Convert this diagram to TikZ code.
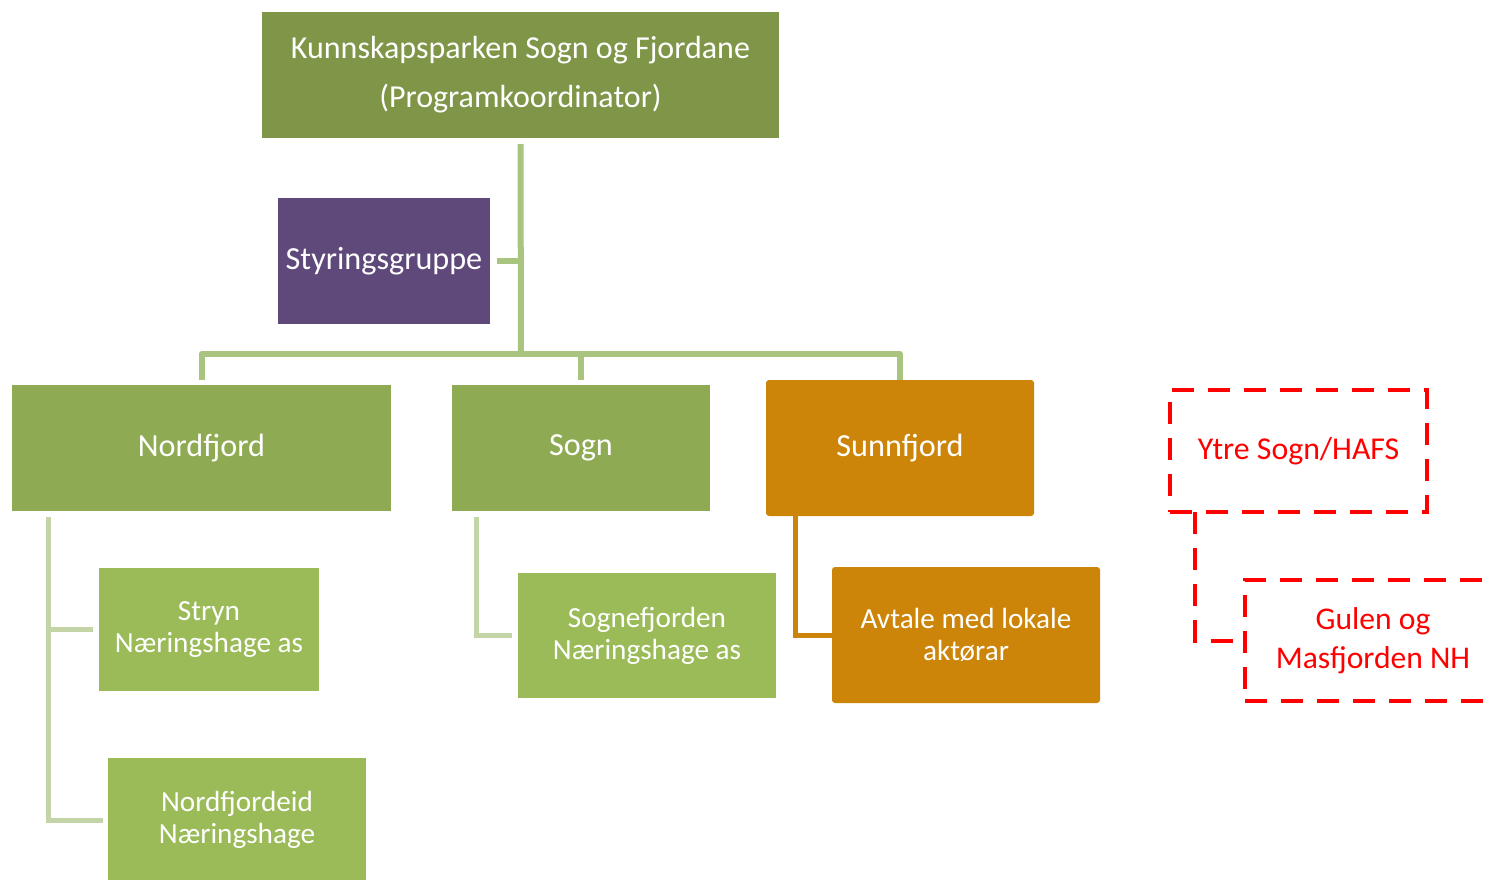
\documentclass[tikz,border=0pt]{standalone}
\usepackage{fontspec}
\setmainfont{Carlito}
\definecolor{topgreen}{HTML}{7F9648}
\definecolor{midgreen}{HTML}{8EAA52}
\definecolor{lowgreen}{HTML}{9BBB59}
\definecolor{stypurple}{HTML}{5F497A}
\definecolor{sorange}{HTML}{CC8508}
\definecolor{connA}{HTML}{A9C47F}
\definecolor{connB}{HTML}{C3D5A6}
\definecolor{dred}{HTML}{FF0000}
\begin{document}
\begin{tikzpicture}[x=0.5pt,y=-0.5pt,
  box/.style={inner sep=0pt, outer sep=0pt, align=center, text=white},
  bigtxt/.style={font=\fontsize{16.1}{20}\selectfont},
  smalltxt/.style={font=\fontsize{14.6}{16}\selectfont},
  greenA/.style={box, fill=topgreen},
  greenB/.style={box, fill=midgreen, bigtxt},
  greenC/.style={box, fill=lowgreen, smalltxt},
  orangebox/.style={box, fill=sorange, rounded corners=1.5pt},
  dashbox/.style={inner sep=0pt, outer sep=0pt, align=center, text=dred, draw=dred, line width=2pt, dash pattern=on 11pt off 7pt},
  conn/.style={draw=connA, line width=3pt},
  connc/.style={draw=connB, line width=2.5pt},
  conno/.style={draw=sorange, line width=2.5pt},
  connd/.style={draw=dred, line width=2pt, dash pattern=on 11pt off 7pt}]
\clip (0,0) rectangle (1490,879);
\fill[white] (0,0) rectangle (1490,879);

\node[greenA, minimum width=258.5pt, minimum height=63pt, font=\fontsize{16}{24.5}\selectfont] (top) at (520.5,75) {Kunnskapsparken Sogn og Fjordane\\(Programkoordinator)};
\node[box, fill=stypurple, minimum width=106pt, minimum height=63pt, bigtxt] (sty) at (384,261) {Styringsgruppe};

\node[greenB, minimum width=189.5pt, minimum height=63pt] (nord) at (201.5,448) {Nordfjord};
\node[greenB, minimum width=129pt, minimum height=63pt] (sogn) at (581,448) {Sogn};
\node[orangebox, bigtxt, minimum width=134pt, minimum height=68pt] (sunn) at (900,448) {Sunnfjord};

\node[greenC, minimum width=110pt, minimum height=61.5pt] (stryn) at (209,629.5) {Stryn\\Næringshage as};
\node[greenC, minimum width=129pt, minimum height=62pt] (neid) at (237,820) {Nordfjordeid\\Næringshage};
\node[greenC, minimum width=129pt, minimum height=62.5pt] (sfj) at (647,635.5) {Sognefjorden\\Næringshage as};
\node[orangebox, smalltxt, minimum width=134pt, minimum height=68pt] (avt) at (966,635) {Avtale med lokale\\aktørar};

\node[dashbox, font=\fontsize{15.9}{19}\selectfont, minimum width=128.5pt, minimum height=61pt] (ytre) at (1298.5,451) {Ytre Sogn/HAFS};
\node[dashbox, font=\fontsize{15.8}{19.5}\selectfont, minimum width=128pt, minimum height=60.5pt] (gulen) at (1373,640.5) {Gulen og\\Masfjorden NH};

% main connectors
\coordinate (hub) at (521,354);
\draw[conn] ([yshift=-3pt]top.south) -- (hub);
\draw[conn] ([xshift=3.5pt]sty.east) -- (sty.east -| hub);
\draw[conn, line join=round] ([yshift=2.5pt]nord.north) -- (nord.north |- hub) -| (sunn.north);
\draw[conn] ([yshift=2.5pt]sogn.north) -- (sogn.north |- hub);

% child connectors
\coordinate (nc) at ([xshift=18pt,yshift=-3pt]nord.south west);
\draw[connc] (nc) |- ([xshift=-3pt]stryn.west);
\draw[connc] (nc) |- ([xshift=-2.5pt]neid.west);
\coordinate (sc) at ([xshift=12pt,yshift=-3pt]sogn.south west);
\draw[connc] (sc) |- ([xshift=-3pt]sfj.west);
\coordinate (oc) at ([xshift=14.5pt]sunn.south west);
\draw[conno] (oc) |- (avt.west);
\coordinate (dc) at ([xshift=12.5pt]ytre.south west);
\draw[connd] (dc) |- (gulen.west);
\end{tikzpicture}
\end{document}
